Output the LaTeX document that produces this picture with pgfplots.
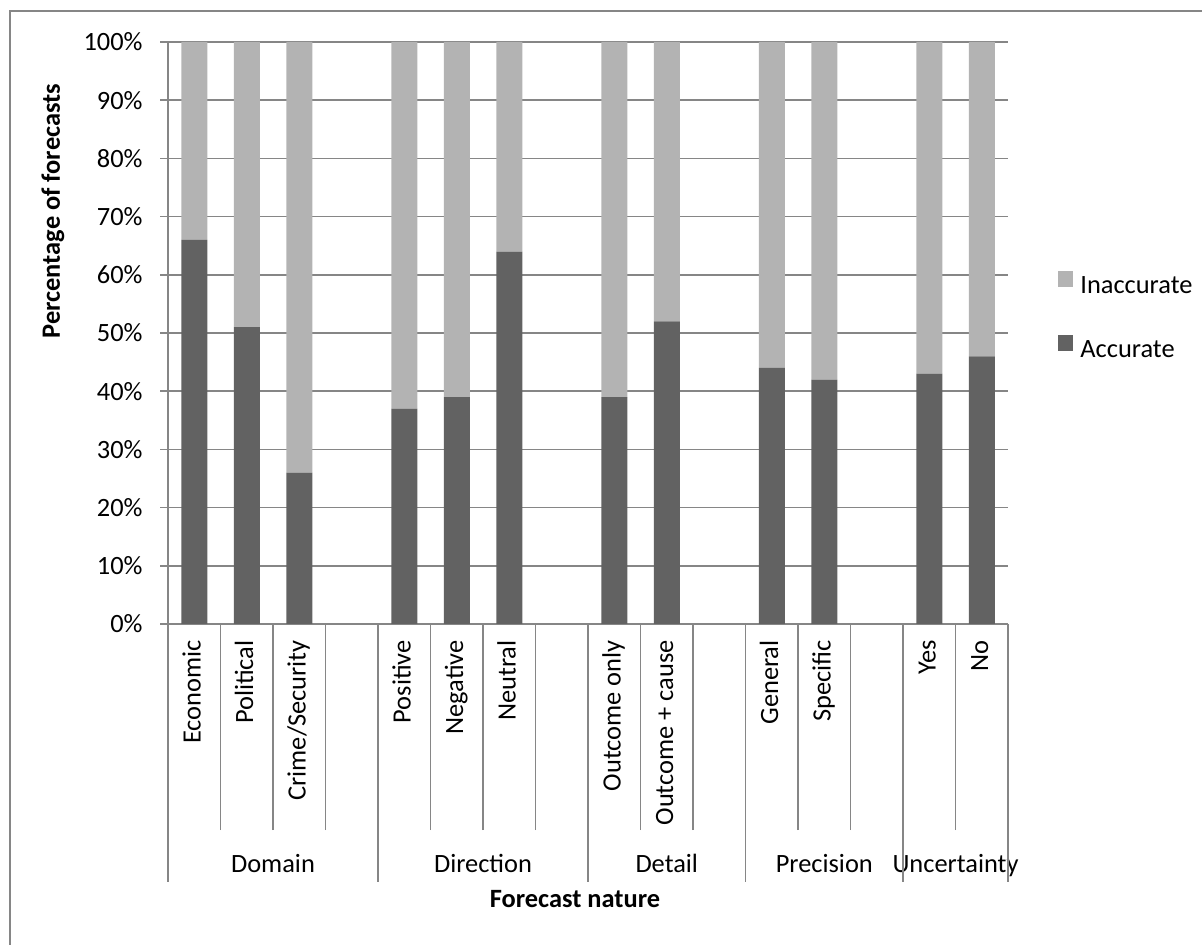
\documentclass[border=0pt]{standalone}
\usepackage{pgfplots}
\pgfplotsset{compat=1.18}
\usepackage{fontspec}
\setmainfont{Carlito}
\definecolor{acc}{HTML}{626262}
\definecolor{inacc}{HTML}{B3B3B3}
\definecolor{axgray}{HTML}{868686}
\begin{document}
\fontsize{13.2pt}{15.8pt}\selectfont%
\begin{tikzpicture}
\useasboundingbox (0,0) rectangle (601pt,472.5pt);
\draw[axgray, line width=0.75pt] (5pt,-5pt) -- (5pt,467pt) -- (610pt,467pt);
\begin{axis}[
  at={(84pt,160.5pt)}, anchor=south west,
  scale only axis, width=420pt, height=291pt,
  ybar stacked, bar width=13pt,
  xmin=-0.5, xmax=15.5, ymin=0, ymax=100,
  clip=false,
  axis lines*=left,
  axis line style={axgray, line width=0.75pt},
  ymajorgrids, grid style={axgray, line width=0.75pt},
  ytick={0,10,...,100},
  yticklabel={\pgfmathprintnumber{\tick}\%},
  /pgf/number format/assume math mode=true,
  tick align=outside, major tick length=4pt,
  tick style={axgray, line width=0.75pt},
  xtick={0,...,15},
  xticklabels={Economic,Political,Crime/Security,,Positive,Negative,Neutral,,Outcome only,Outcome + cause,,General,Specific,,Yes,No},
  major x tick style={draw=none},
  minor xtick={-0.5,0.5,...,15.5}, minor tick length=103pt,
  xticklabel style={rotate=90, anchor=east, inner sep=0pt, text height=9pt, text depth=2.6pt},
  xticklabel shift=4pt,
  yticklabel style={inner sep=0pt},
  yticklabel shift=8.5pt,
  ylabel={\textbf{Percentage of forecasts}},
  ylabel style={at={(axis description cs:-0.1369,0.7096)}, anchor=center},
  xlabel={\textbf{Forecast nature}},
  xlabel style={at={(axis description cs:0.4845,-0.4725)}, anchor=center},
  legend cell align=left,
  legend style={draw=none, fill=none, at={(axis description cs:1.0595,0.6065)}, anchor=north west,
    inner sep=0pt, row sep=18.4pt, column sep=3.5pt,
    nodes={inner sep=0pt, text height=9pt, text depth=2.6pt}},
  reverse legend,
]
\addplot[fill=acc, draw=none, legend image code/.code={\fill[acc] (0pt,0pt) rectangle (7.5pt,7.75pt);}]
  coordinates {(0,66) (1,51) (2,26) (4,37) (5,39) (6,64) (8,39) (9,52) (11,44) (12,42) (14,43) (15,46)};
\addlegendentry{Accurate}
\addplot[fill=inacc, draw=none, legend image code/.code={\fill[inacc] (0pt,0pt) rectangle (7.5pt,7.75pt);}]
  coordinates {(0,34) (1,49) (2,74) (4,63) (5,61) (6,36) (8,61) (9,48) (11,56) (12,58) (14,57) (15,54)};
\addlegendentry{Inaccurate}
\pgfplotsinvokeforeach{-0.5,3.5,7.5,10.5,13.5,15.5}{
  \draw[axgray, line width=0.75pt] (axis cs:#1,0) -- ++(0pt,-129pt);
}
\node[anchor=base] at (axis cs:1.5,0) [yshift=-124.5pt] {Domain};
\node[anchor=base] at (axis cs:5.5,0) [yshift=-124.5pt] {Direction};
\node[anchor=base] at (axis cs:9,0) [yshift=-124.5pt] {Detail};
\node[anchor=base] at (axis cs:12,0) [yshift=-124.5pt] {Precision};
\node[anchor=base] at (axis cs:14.5,0) [yshift=-124.5pt] {Uncertainty};
\end{axis}
\end{tikzpicture}
\end{document}
